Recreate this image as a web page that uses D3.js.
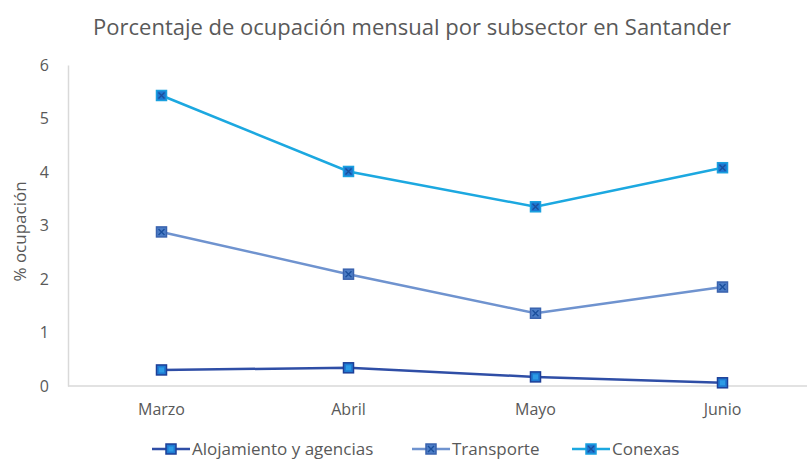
<!DOCTYPE html>
<html>
<head>
<meta charset="utf-8">
<script src="https://cdn.jsdelivr.net/npm/d3@7"></script>
<style>
  body { margin: 0; background: #fff; }
  svg { display: block; }
  svg text { font-family: "Open Sans", "Noto Sans", sans-serif; fill: #595959; }
</style>
</head>
<body>
<svg id="chart"></svg>
<script>
const months = ['Marzo', 'Abril', 'Mayo', 'Junio'];
const alojamiento = [0.30, 0.34, 0.17, 0.06];
const transporte = [2.88, 2.09, 1.36, 1.85];
const conexas = [5.43, 4.01, 3.35, 4.08];
const yTicks = [0, 1, 2, 3, 4, 5, 6];

const series = [
  { name: 'Alojamiento y agencias', values: alojamiento, line: '#2f4ea6', fill: '#1f7bd2', stroke: '#1d3f98', mark: 'dot' },
  { name: 'Transporte', values: transporte, line: '#6f93cf', fill: '#4c7dc6', stroke: '#3a63ae', mark: 'x' },
  { name: 'Conexas', values: conexas, line: '#1ca8e0', fill: '#1d78d2', stroke: '#1aa0df', mark: 'x' }
];

const width = 807;
const height = 459;
const plotLeft = 68;
const plotTop = 65;
const plotBottom = 386;

const svg = d3.select('#chart').attr('width', width).attr('height', height);

const x = d3.scaleBand().domain(months).range([plotLeft, plotLeft + 4 * 187]);
const y = d3.scaleLinear().domain([0, 6]).range([plotBottom, plotTop]);

svg.append('text')
  .attr('x', 412)
  .attr('y', 35)
  .attr('text-anchor', 'middle')
  .style('font-size', '22px')
  .text('Porcentaje de ocupación mensual por subsector en Santander');

// y axis
const yAxis = svg.append('g')
  .attr('transform', `translate(${plotLeft},0)`)
  .call(d3.axisLeft(y).tickValues(yTicks).tickSize(0).tickPadding(19).tickFormat(d3.format('d')));
yAxis.select('.domain').attr('stroke', '#d9d9d9').attr('stroke-width', 1.5);
yAxis.selectAll('text').style('font-size', '16px');

// x axis
const xAxis = svg.append('g')
  .attr('transform', `translate(0,${plotBottom})`)
  .call(d3.axisBottom(x).tickSize(0).tickPadding(18));
xAxis.select('.domain').remove();
xAxis.append('line')
  .attr('x1', plotLeft).attr('x2', width)
  .attr('stroke', '#d9d9d9').attr('stroke-width', 1.5);
xAxis.selectAll('text').style('font-size', '16px');

svg.append('text')
  .attr('transform', `translate(26,${(plotTop + plotBottom) / 2 + 6}) rotate(-90)`)
  .attr('text-anchor', 'middle')
  .style('font-size', '17px')
  .text('% ocupación');

const cx = m => x(m) + x.bandwidth() / 2;

function marker(g, s, px, py) {
  g.append('rect')
    .attr('x', px - 5).attr('y', py - 5)
    .attr('width', 10).attr('height', 10)
    .attr('fill', s.fill).attr('stroke', s.stroke).attr('stroke-width', 1.5);
  if (s.mark === 'x') {
    g.append('path')
      .attr('d', `M${px - 3},${py - 3}L${px + 3},${py + 3}M${px + 3},${py - 3}L${px - 3},${py + 3}`)
      .attr('stroke', '#1b4f9c').attr('stroke-width', 1.4);
  } else {
    g.append('rect')
      .attr('x', px - 2.5).attr('y', py - 2.5)
      .attr('width', 5).attr('height', 5)
      .attr('fill', '#2c9be6');
  }
}

const line = d3.line().x((d, i) => cx(months[i])).y(d => y(d));

series.forEach(s => {
  svg.append('path')
    .datum(s.values)
    .attr('d', line)
    .attr('fill', 'none')
    .attr('stroke', s.line)
    .attr('stroke-width', 2.5);
  const g = svg.append('g');
  s.values.forEach((v, i) => marker(g, s, cx(months[i]), y(v)));
});

// legend
const legendX = [152, 412, 572];
series.forEach((s, i) => {
  const g = svg.append('g');
  const lx = legendX[i];
  const ly = 449;
  g.append('line')
    .attr('x1', lx).attr('x2', lx + 38)
    .attr('y1', ly).attr('y2', ly)
    .attr('stroke', s.line).attr('stroke-width', 2.5);
  marker(g, s, lx + 19, ly);
  g.append('text')
    .attr('x', lx + 40)
    .attr('y', ly + 6)
    .style('font-size', '17px')
    .text(s.name);
});
</script>
</body>
</html>
